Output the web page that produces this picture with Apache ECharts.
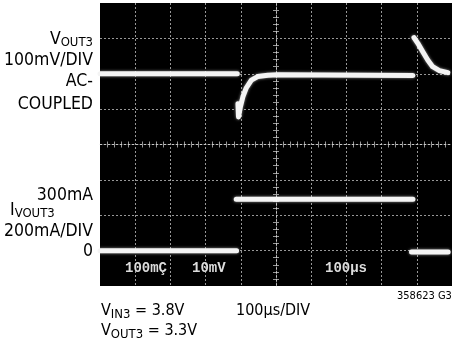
<!DOCTYPE html>
<html>
<head>
<meta charset="utf-8">
<script src="https://cdn.jsdelivr.net/npm/echarts@6/dist/echarts.min.js"></script>
<style>
html, body { margin: 0; padding: 0; background: #fff; }
#chart { width: 452px; height: 348px; }
</style>
</head>
<body>
<div id="chart"></div>
<script>
// time in us (100us/DIV), VOUT3 in mV (AC-coupled), IVOUT3 in mA
var vTime = [0, 390, 391, 392, 393.5, 399, 406, 415, 430, 448, 477, 505, 889, 890, 892, 896, 903, 917, 931, 945, 964, 988];
var vOut = [0, 0, null, -85, -122, -93, -65, -41, -18, -8, -4, -3, -5, null, 102, 98, 86, 62, 39, 20, 9, 3];
var iTime = [0, 388, 388, 387, 889, 889, 885, 989];
var iOut = [0, 0, null, 290, 290, null, -8, -8];

var scopeTexts = ["100mÇ", "10mV", "100μs"];

function pairs(t, v) {
  return t.map(function (x, i) {
    return [x, v[i] === null ? "-" : v[i]];
  });
}

var chart = echarts.init(document.getElementById("chart"));

var gridColor = "rgba(215,215,215,0.7)";
var dotted = [2, 2];
var FONT = '"DejaVu Sans Condensed", "Liberation Sans Narrow", "Liberation Sans", sans-serif';
var traceStyle = {
  color: "#f4f4f4",
  width: 5,
  cap: "round",
  join: "round",
  shadowBlur: 3,
  shadowColor: "rgba(255,255,255,0.6)"
};

// centre cross-hair with the small tick marks of the scope graticule
function centerX() {
  return {
    type: "value", min: 0, max: 1000, interval: 100,
    position: "bottom", offset: -141.5,
    axisLine: { show: true, onZero: false, lineStyle: { color: gridColor, type: dotted } },
    axisTick: { show: false },
    minorTick: { show: true, splitNumber: 5, length: 3, lineStyle: { color: gridColor } },
    axisLabel: { show: false },
    splitLine: { show: false }
  };
}
function centerY() {
  return {
    type: "value", min: -4, max: 4, interval: 1,
    position: "left", offset: -176,
    axisLine: { show: true, onZero: false, lineStyle: { color: gridColor, type: dotted } },
    axisTick: { show: false },
    minorTick: { show: true, splitNumber: 5, length: 3, lineStyle: { color: gridColor } },
    axisLabel: { show: false },
    splitLine: { show: false }
  };
}

var xc1 = centerX();
var xc2 = centerX(); xc2.axisLine.show = false; xc2.minorTick.length = -3;
var yc1 = centerY();
var yc2 = centerY(); yc2.axisLine.show = false; yc2.minorTick.length = -3;

function txt(x, y, text, align, size, rich) {
  return {
    type: "text", x: x, y: y, z: 100,
    style: {
      text: text, align: align, verticalAlign: "middle",
      fontFamily: FONT, fontSize: size || 17.5, fill: "#000",
      rich: rich
    }
  };
}
var subRich = {
  m: { fontFamily: FONT, fontSize: 17.5, lineHeight: 20, fill: "#000" },
  s: { fontFamily: FONT, fontSize: 13, lineHeight: 12, verticalAlign: "bottom", fill: "#000" }
};
var subRich2 = {
  m: { fontFamily: FONT, fontSize: 16, lineHeight: 20, fill: "#000" },
  s: { fontFamily: FONT, fontSize: 13, lineHeight: 12, verticalAlign: "bottom", fill: "#000" }
};
function scope(x, text) {
  return {
    type: "text", x: x, y: 268, z: 100,
    style: {
      text: text, align: "left", verticalAlign: "middle",
      fontFamily: '"Liberation Mono", "DejaVu Sans Mono", monospace',
      fontWeight: "bold", fontSize: 14, fill: "#dcdcdc"
    }
  };
}

var option = {
  animation: false,
  backgroundColor: "#fff",
  grid: { left: 100, top: 3, width: 352, height: 283, show: true, backgroundColor: "#000", borderWidth: 0 },
  xAxis: [
    {
      type: "value", min: 0, max: 1000, interval: 100,
      axisLine: { show: false }, axisTick: { show: false }, axisLabel: { show: false },
      splitLine: { show: true, showMinLine: false, showMaxLine: false, lineStyle: { color: gridColor, type: dotted } }
    },
    xc1, xc2
  ],
  yAxis: [
    {
      type: "value", min: -600, max: 200, interval: 100,
      axisLine: { show: false }, axisTick: { show: false }, axisLabel: { show: false },
      splitLine: { show: true, showMinLine: false, showMaxLine: false, lineStyle: { color: gridColor, type: dotted } }
    },
    {
      type: "value", min: -200, max: 1400, interval: 200, position: "left",
      axisLine: { show: false }, axisTick: { show: false }, axisLabel: { show: false },
      splitLine: { show: false }
    },
    yc1, yc2
  ],
  series: [
    {
      name: "VOUT3", type: "line", xAxisIndex: 0, yAxisIndex: 0,
      data: pairs(vTime, vOut), showSymbol: false, symbol: "none",
      connectNulls: false, lineStyle: traceStyle
    },
    {
      name: "IVOUT3", type: "line", xAxisIndex: 0, yAxisIndex: 1,
      data: pairs(iTime, iOut), showSymbol: false, symbol: "none",
      connectNulls: false, lineStyle: traceStyle
    }
  ],
  graphic: [
    txt(93, 39, "{m|V}{s|OUT3}", "right", 17.5, subRich),
    txt(93, 60, "100mV/DIV", "right"),
    txt(93, 81, "AC-", "right"),
    txt(93, 104, "COUPLED", "right"),
    txt(93, 195, "300mA", "right"),
    txt(10, 210, "{m|I}{s|VOUT3}", "left", 17.5, subRich),
    txt(93, 231, "200mA/DIV", "right"),
    txt(93, 251, "0", "right"),
    txt(101, 311, "{m|V}{s|IN3}{m| = 3.8V}", "left", 16, subRich2),
    txt(101, 331, "{m|V}{s|OUT3}{m| = 3.3V}", "left", 16, subRich2),
    txt(236, 311, "100μs/DIV", "left", 16),
    txt(397, 296, "358623 G33", "left", 11),
    scope(125, scopeTexts[0]),
    scope(192, scopeTexts[1]),
    scope(325, scopeTexts[2])
  ]
};

chart.setOption(option);
</script>
</body>
</html>
